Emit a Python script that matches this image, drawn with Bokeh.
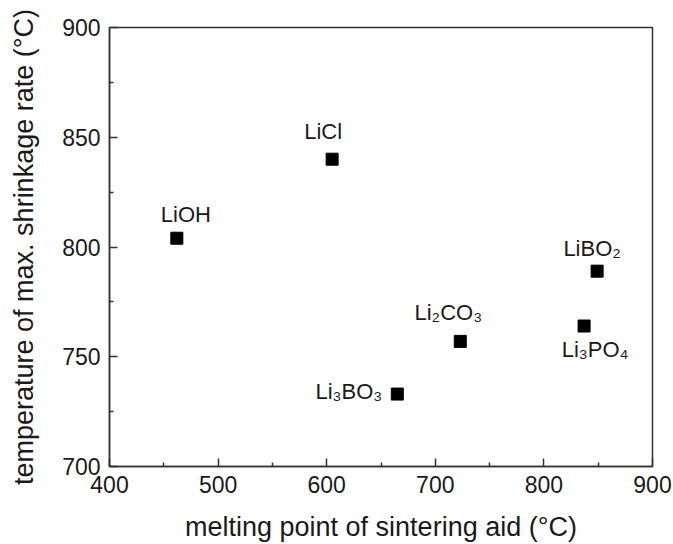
from bokeh.plotting import figure
from bokeh.models import ColumnDataSource, Range1d, FixedTicker
from bokeh.embed import file_html
from bokeh.resources import INLINE
from bokeh.core.properties import value

# ---- data ----
compounds = ["LiOH", "LiCl", "Li₃BO₃", "Li₂CO₃", "Li₃PO₄", "LiBO₂"]
melting_point = [462, 605, 665, 723, 837, 849]
shrink_temp = [804, 840, 733, 757, 764, 789]

x_ticks = [400, 500, 600, 700, 800, 900]
y_ticks = [700, 750, 800, 850, 900]

# ---- label styling (screen-pixel offsets from each point) ----
label_align = ["center", "center", "right", "center", "center", "center"]
label_dx = [9, -9, -15, -12, 11, -5]
label_dy = [-24, -28, -3, -29, 23, -23]

FONT = "Liberation Sans"
INK = "#1a1a1a"

src = ColumnDataSource(dict(x=melting_point, y=shrink_temp, name=compounds,
                            align=label_align, dx=label_dx, dy=label_dy))

p = figure(width=673, height=544, output_backend="svg", toolbar_location=None,
           x_range=Range1d(400, 900), y_range=Range1d(700, 900),
           min_border_left=109, min_border_right=21, min_border_top=27,
           min_border_bottom=78)
p.grid.visible = False
p.outline_line_color = "#333333"
p.outline_line_width = 1.5
p.background_fill_color = "white"
p.border_fill_color = "white"

p.scatter("x", "y", source=src, marker="square", size=12,
          fill_color="black", line_color="black")

p.text("x", "y", text="name", source=src, x_offset="dx", y_offset="dy",
       text_align="align", text_baseline="alphabetic",
       text_font=value(FONT), text_font_size="22px", text_color=INK)

for ax, ticks in ((p.xaxis[0], x_ticks), (p.yaxis[0], y_ticks)):
    ax.ticker = FixedTicker(ticks=ticks,
                            minor_ticks=[t + (ticks[1] - ticks[0]) / 2 for t in ticks[:-1]])
    ax.major_tick_in = 8
    ax.major_tick_out = 0
    ax.minor_tick_in = 4
    ax.minor_tick_out = 0
    ax.axis_line_color = "#333333"
    ax.axis_line_width = 1.5
    ax.major_tick_line_color = "#333333"
    ax.major_tick_line_width = 1.5
    ax.minor_tick_line_color = "#333333"
    ax.minor_tick_line_width = 1.5
    ax.major_label_text_font = FONT
    ax.major_label_text_font_size = "23px"
    ax.major_label_text_color = INK
    ax.major_label_standoff = 9
    ax.axis_label_text_font = FONT
    ax.axis_label_text_font_size = "27px"
    ax.axis_label_text_font_style = "normal"
    ax.axis_label_text_color = INK

p.xaxis.axis_label = "melting point of sintering aid (°C)"
p.yaxis.axis_label = "temperature of max. shrinkage rate (°C)"
p.xaxis.axis_label_standoff = 16
p.yaxis.axis_label_standoff = 20

open("out.html", "w").write(file_html(p, INLINE))
